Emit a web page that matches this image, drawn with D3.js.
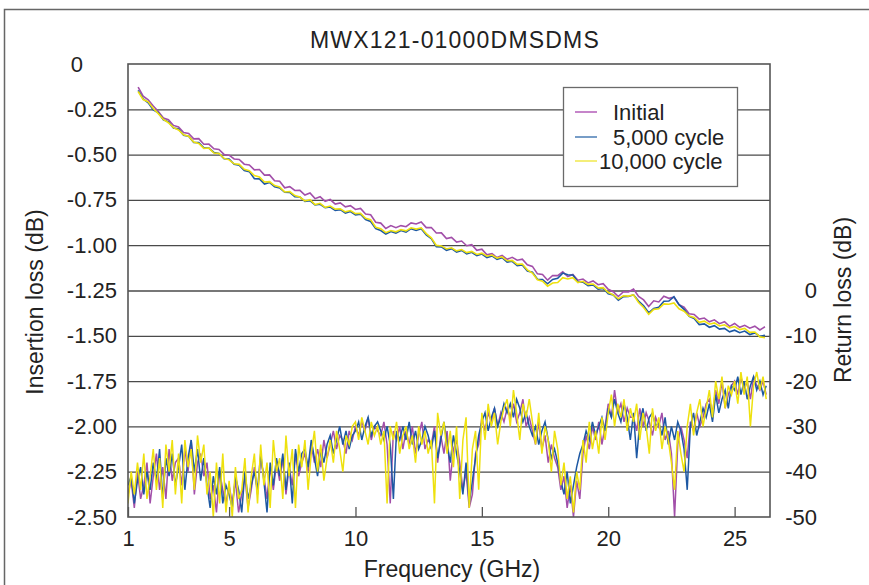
<!DOCTYPE html>
<html><head><meta charset="utf-8">
<script src="https://cdn.jsdelivr.net/npm/d3@7"></script>
<style>
html,body{margin:0;padding:0;background:#fff;}
svg text{font-family:"Liberation Sans",Arial,Helvetica,sans-serif;fill:#222;}
</style></head>
<body><svg id="chart" width="869" height="585"></svg>
<script>
const title = "MWX121-01000DMSDMS";
const seriesNames = ["Initial", "5,000 cycle", "10,000 cycle"];
const seriesColors = ["#a24fa9", "#1d58a3", "#eee10e"];
const legendColors = ["#b35cb8", "#4a7cb4", "#f1e84c"];
const ilTicks = [0, -0.25, -0.5, -0.75, -1.0, -1.25, -1.5, -1.75, -2.0, -2.25, -2.5];
const ilTickLabels = ["0", "-0.25", "-0.50", "-0.75", "-1.00", "-1.25", "-1.50", "-1.75", "-2.00", "-2.25", "-2.50"];
const rlTicks = [0, -10, -20, -30, -40, -50];
const rlTickLabels = ["0", "-10", "-20", "-30", "-40", "-50"];
const freqTicks = [1, 5, 10, 15, 20, 25];

// Insertion loss sample grid (GHz) and values (dB)
const ilFreq = d3.range(1.4, 26.21, 0.2);
const ilInitial = [-0.128,-0.178,-0.198,
-0.232,-0.262,-0.298,-0.308,-0.339, -0.348,-0.378,-0.383,-0.413,-0.412, -0.443,-0.442,-0.468,-0.472,-0.499,
-0.503,-0.524,-0.527,-0.553,-0.557, -0.584,-0.582,-0.613,-0.612,-0.644, -0.647,-0.683,-0.677,-0.698,-0.697,
-0.723,-0.712,-0.743,-0.732,-0.758, -0.748,-0.773,-0.767,-0.788,-0.782, -0.803,-0.797,-0.828,-0.832,-0.873,
-0.878,-0.908,-0.892,-0.903,-0.892, -0.898,-0.877,-0.883,-0.872,-0.903, -0.902,-0.933,-0.932,-0.963,-0.957,
-0.983,-0.977,-1.003,-0.997,-1.028, -1.022,-1.053,-1.047,-1.068,-1.057, -1.078,-1.067,-1.083,-1.077,-1.108,
-1.117,-1.158,-1.162,-1.193,-1.167, -1.168,-1.147,-1.173,-1.162,-1.193, -1.187,-1.208,-1.197,-1.218,-1.212,
-1.243,-1.257,-1.283,-1.257,-1.258, -1.242,-1.283,-1.302,-1.338,-1.307, -1.313,-1.282,-1.293,-1.287,-1.328,
-1.342,-1.378,-1.382,-1.408,-1.402, -1.423,-1.412,-1.433,-1.422,-1.448, -1.432,-1.453,-1.442,-1.458,-1.447,
-1.468,-1.45];
const il5000 = [-0.146,-0.193,-0.214,
-0.253,-0.269,-0.308,-0.319,-0.353, -0.359,-0.393,-0.399,-0.433,-0.434, -0.463,-0.464,-0.488,-0.494,-0.523,
-0.524,-0.553,-0.559,-0.588,-0.594, -0.633,-0.634,-0.663,-0.654,-0.678, -0.684,-0.708,-0.709,-0.733,-0.734,
-0.758,-0.754,-0.778,-0.774,-0.793, -0.789,-0.808,-0.804,-0.823,-0.814, -0.833,-0.829,-0.858,-0.869,-0.908,
-0.919,-0.938,-0.924,-0.933,-0.919, -0.928,-0.909,-0.918,-0.909,-0.943, -0.964,-1.008,-1.009,-1.028,-1.019,
-1.038,-1.029,-1.048,-1.039,-1.058, -1.049,-1.068,-1.059,-1.078,-1.069, -1.093,-1.089,-1.113,-1.109,-1.143,
-1.149,-1.188,-1.189,-1.213,-1.189, -1.183,-1.154,-1.163,-1.164,-1.203, -1.204,-1.223,-1.219,-1.243,-1.239,
-1.268,-1.274,-1.303,-1.284,-1.283, -1.274,-1.308,-1.334,-1.373,-1.349, -1.343,-1.309,-1.308,-1.284,-1.328,
-1.354,-1.393,-1.404,-1.438,-1.434, -1.453,-1.444,-1.463,-1.459,-1.478, -1.469,-1.483,-1.474,-1.493,-1.484,
-1.503,-1.497];
const il10000 = [-0.152,-0.196,-0.209,
-0.246,-0.274,-0.306,-0.324,-0.351, -0.364,-0.391,-0.399,-0.431,-0.439, -0.466,-0.464,-0.491,-0.494,-0.521,
-0.529,-0.551,-0.554,-0.581,-0.589, -0.616,-0.624,-0.651,-0.649,-0.671, -0.679,-0.706,-0.704,-0.726,-0.734,
-0.756,-0.749,-0.776,-0.769,-0.791, -0.784,-0.801,-0.799,-0.816,-0.809, -0.826,-0.824,-0.851,-0.859,-0.901,
-0.909,-0.931,-0.919,-0.926,-0.914, -0.921,-0.904,-0.911,-0.904,-0.936, -0.959,-1.001,-1.004,-1.021,-1.014,
-1.031,-1.024,-1.041,-1.034,-1.051, -1.044,-1.061,-1.054,-1.071,-1.064, -1.086,-1.084,-1.106,-1.104,-1.136,
-1.154,-1.191,-1.199,-1.226,-1.209, -1.206,-1.179,-1.186,-1.179,-1.206, -1.199,-1.216,-1.214,-1.236,-1.234,
-1.261,-1.274,-1.296,-1.279,-1.281, -1.274,-1.316,-1.344,-1.381,-1.354, -1.351,-1.324,-1.326,-1.319,-1.351,
-1.364,-1.391,-1.399,-1.426,-1.419, -1.436,-1.429,-1.446,-1.439,-1.456, -1.449,-1.466,-1.459,-1.481,-1.479,
-1.506,-1.51];

// Return loss sample grid (GHz) and values (dB)
const rlFreq = d3.range(1.0, 26.26, 0.125);
const rlInitial = [
-45,-42,-48,-40,-46,-43,-38,-47, -41,-36,-44,-39,-46,-35,-42,-38, -37,-43,-35,-40,-33,-45,-38,-36,
-41,-38,-46,-43,-49,-40,-44,-47, -43,-47,-42,-49,-45,-41,-48,-44, -39,-45,-37,-41,-46,-39,-44,-38,
-42,-37,-45,-39,-43,-36,-41,-38, -36,-40,-34,-38,-35,-39,-33,-37, -34,-31,-35,-32,-33,-36,-31,-33,
-30,-32,-29,-31,-28,-33,-30,-31, -32,-29,-34,-47,-31,-33,-30,-35, -31,-34,-30,-36,-32,-29,-35,-33,
-34,-30,-38,-32,-36,-31,-42,-35, -33,-38,-44,-40,-48,-45,-36,-34, -28,-31,-27,-29,-26,-30,-27,-29,
-26,-28,-25,-29,-27,-24,-30,-28, -31,-34,-29,-35,-32,-38,-34,-37, -39,-44,-41,-48,-43,-50,-42,-46,
-36,-32,-35,-30,-33,-29,-34,-30, -25,-28,-22,-27,-25,-29,-26,-28, -28,-31,-26,-30,-27,-29,-32,-28,
-30,-27,-33,-31,-36,-50,-34,-30, -33,-37,-29,-31,-27,-30,-28,-25, -24,-27,-22,-25,-20,-26,-23,-21,
-20,-23,-19,-22,-20,-24,-19,-21, -22,-20,-23];
const rl5000 = [
-43,-41,-47,-42,-39,-45,-40,-44, -38,-42,-35,-46,-37,-41,-36,-43, -39,-34,-44,-37,-33,-40,-35,-42,
-37,-43,-48,-41,-45,-39,-47,-43, -45,-48,-41,-44,-49,-40,-46,-43, -40,-44,-36,-42,-49,-38,-43,-37,
-41,-36,-44,-38,-47,-35,-40,-36, -35,-39,-33,-37,-41,-35,-38,-34, -32,-36,-33,-30,-34,-31,-35,-32,
-31,-29,-33,-30,-28,-32,-30,-29, -31,-33,-30,-34,-46,-31,-33,-30, -33,-29,-34,-31,-35,-33,-30,-32,
-35,-31,-37,-33,-29,-34,-38,-32, -36,-40,-45,-38,-47,-42,-37,-32, -29,-27,-31,-28,-26,-30,-28,-25,
-27,-25,-28,-24,-26,-29,-27,-30, -32,-30,-34,-31,-29,-33,-37,-35, -38,-42,-45,-40,-47,-43,-39,-36,
-34,-31,-33,-29,-32,-30,-28,-31, -26,-28,-24,-27,-29,-25,-28,-33, -27,-37,-29,-26,-31,-28,-27,-30,
-29,-32,-28,-34,-30,-33,-29,-31, -35,-44,-30,-27,-32,-29,-26,-28, -25,-29,-23,-27,-24,-22,-26,-21,
-22,-19,-23,-20,-24,-21,-19,-22, -20,-23,-21];
const rl10000 = [
-47,-40,-45,-38,-44,-36,-46,-41, -35,-44,-37,-48,-34,-40,-33,-45, -36,-47,-33,-39,-35,-44,-32,-38,
-34,-45,-40,-50,-38,-47,-36,-49, -42,-50,-39,-46,-44,-37,-49,-41, -36,-47,-34,-43,-38,-48,-33,-40,
-37,-46,-32,-41,-35,-48,-34,-39, -33,-44,-36,-31,-40,-34,-42,-37, -33,-38,-31,-35,-40,-32,-34,-30,
-29,-33,-28,-31,-34,-29,-32,-30, -34,-31,-47,-30,-33,-29,-36,-32, -30,-35,-32,-38,-30,-34,-31,-36,
-33,-47,-27,-32,-29,-36,-31,-39, -30,-46,-33,-28,-48,-35,-31,-44, -27,-33,-25,-30,-27,-34,-29,-26,
-24,-30,-22,-27,-33,-25,-28,-24, -29,-34,-27,-36,-30,-33,-40,-31, -35,-43,-38,-46,-41,-49,-40,-44,
-33,-38,-29,-35,-31,-36,-28,-33, -27,-23,-30,-25,-28,-24,-31,-26, -29,-25,-33,-27,-30,-36,-26,-31,
-28,-35,-30,-33,-38,-44,-31,-36, -40,-30,-25,-32,-27,-24,-30,-26, -22,-28,-20,-24,-19,-26,-21,-23,
-20,-25,-18,-23,-19,-30,-21,-18, -22,-19,-24];

const ilSeries = [ilInitial, il5000, il10000];
const rlSeries = [rlInitial, rl5000, rl10000];

const svg = d3.select("#chart");
const L = 128, R = 770, T = 64, B = 517;
const x = d3.scaleLinear().domain([1, 26.4]).range([L, R]);
const yL = d3.scaleLinear().domain([-2.5, 0]).range([B, T]);
const yR = d3.scaleLinear().domain([-50, 0]).range([B, yL(-1.25)]);

// outer frame
svg.append("rect").attr("x", 4.5).attr("y", 9.5).attr("width", 900).attr("height", 600)
  .attr("fill", "none").attr("stroke", "#666").attr("stroke-width", 1.5);

// title
svg.append("text").attr("x", 455).attr("y", 48).attr("text-anchor", "middle")
  .style("font-size", "23px").style("letter-spacing", "1.2px").text(title);

// gridlines
const grid = svg.append("g").attr("transform", `translate(${L},0)`)
  .call(d3.axisLeft(yL).tickValues(ilTicks.slice(1, -1)).tickSize(-(R - L)).tickFormat(""));
grid.select(".domain").remove();
grid.selectAll(".tick line").attr("stroke", "#4a4a4a").attr("stroke-width", 1.3);

// clip
svg.append("clipPath").attr("id", "clip").append("rect")
  .attr("x", L).attr("y", T).attr("width", R - L).attr("height", B - T);

const plot = svg.append("g").attr("clip-path", "url(#clip)");
const lineIL = d3.line().x((d) => x(d[0])).y((d) => yL(d[1]));
const lineRL = d3.line().x((d) => x(d[0])).y((d) => yR(d[1]));

for (let s = 0; s < 3; s++) {
  const rl = rlSeries[s];
  const pts = d3.range(Math.min(rl.length, rlFreq.length)).map((i) => [rlFreq[i], rl[i]]);
  plot.append("path").datum(pts).attr("d", lineRL).attr("fill", "none")
    .attr("stroke", seriesColors[s]).attr("stroke-width", 1.5);
}
for (let s = 0; s < 3; s++) {
  const il = ilSeries[s];
  const pts = d3.range(Math.min(il.length, ilFreq.length)).map((i) => [ilFreq[i], il[i]]);
  plot.append("path").datum(pts).attr("d", lineIL).attr("fill", "none")
    .attr("stroke", seriesColors[s]).attr("stroke-width", 1.6);
}

// legend
const lg = svg.append("g");
lg.append("rect").attr("x", 563.5).attr("y", 87.5).attr("width", 174).attr("height", 99)
  .attr("fill", "#fff").attr("stroke", "#6a6a6a").attr("stroke-width", 1.3);
const legY = [112, 137, 161];
const legTX = [613, 613, 599];
seriesNames.forEach((n, i) => {
  lg.append("line").attr("x1", 575).attr("x2", 597).attr("y1", legY[i]).attr("y2", legY[i])
    .attr("stroke", legendColors[i]).attr("stroke-width", 1.5);
  lg.append("text").attr("x", legTX[i]).attr("y", legY[i] + 7.5).style("font-size", "22px").text(n);
});

// plot border
svg.append("rect").attr("x", L).attr("y", T).attr("width", R - L).attr("height", B - T)
  .attr("fill", "none").attr("stroke", "#555").attr("stroke-width", 1.6);

// left axis
const ax = svg.append("g").attr("transform", `translate(${L},0)`)
  .call(d3.axisLeft(yL).tickValues(ilTicks).tickSize(0).tickPadding(11)
    .tickFormat((d, i) => ilTickLabels[i]));
ax.select(".domain").remove();
ax.selectAll("text").style("font-size", "22px").attr("fill", "#222").attr("font-family", null);
ax.selectAll(".tick").filter((d) => d === 0).select("text").attr("x", -45);

// right axis
const axr = svg.append("g").attr("transform", `translate(${R},0)`)
  .call(d3.axisRight(yR).tickValues(rlTicks).tickSize(0).tickPadding(47)
    .tickFormat((d, i) => rlTickLabels[i]));
axr.select(".domain").remove();
axr.selectAll("text").style("font-size", "22px").attr("text-anchor", "end").attr("fill", "#222").attr("font-family", null);

// bottom axis
const axb = svg.append("g").attr("transform", `translate(0,${B})`)
  .call(d3.axisBottom(x).tickValues(freqTicks).tickSizeInner(-10).tickSizeOuter(0).tickPadding(13)
    .tickFormat(d3.format("d")));
axb.select(".domain").remove();
axb.selectAll(".tick line").attr("stroke", "#555").attr("stroke-width", 1.3);
axb.selectAll("text").style("font-size", "22px").attr("fill", "#222").attr("font-family", null);

// axis titles
svg.append("text").attr("transform", "translate(43,302) rotate(-90)").attr("text-anchor", "middle")
  .style("font-size", "23px").text("Insertion loss (dB)");
svg.append("text").attr("transform", "translate(851,300) rotate(-90)").attr("text-anchor", "middle")
  .style("font-size", "23px").text("Return loss (dB)");
svg.append("text").attr("x", 452).attr("y", 577).attr("text-anchor", "middle")
  .style("font-size", "23px").text("Frequency (GHz)");
</script></body></html>
